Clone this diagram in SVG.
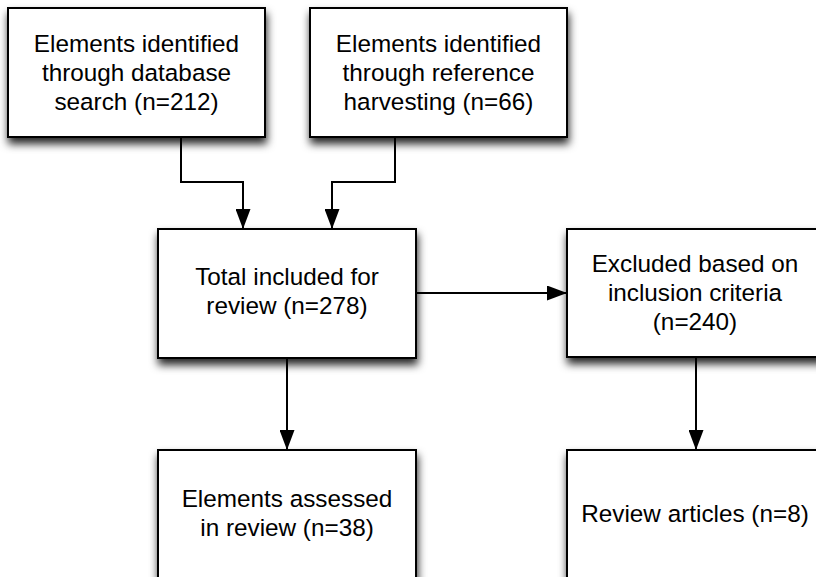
<svg xmlns="http://www.w3.org/2000/svg" width="816" height="577" viewBox="0 0 816 577">
<defs>
<filter id="sh" x="-20%" y="-20%" width="140%" height="150%">
<feDropShadow dx="1" dy="6" stdDeviation="4" flood-color="#000" flood-opacity="0.85"/>
</filter>
<marker id="ah" markerUnits="userSpaceOnUse" markerWidth="21" markerHeight="15" refX="20" refY="7.5" orient="auto">
<path d="M0,0 L20,7.5 L0,15 Z" fill="#000"/>
</marker>
<style>
.box{fill:#fff;stroke:#000;stroke-width:2;filter:url(#sh)}
.t{font-family:"Liberation Sans",Arial,Helvetica,sans-serif;font-size:24.3px;fill:#000;text-anchor:middle}
.c{fill:none;stroke:#000;stroke-width:2;marker-end:url(#ah)}
</style>
</defs>
<rect width="816" height="577" fill="#fff"/>
<g id="connectors">
<path class="c" d="M181 137 V182 H243 V229"/>
<path class="c" d="M395 137 V182 H332 V229"/>
<path class="c" d="M416 293 H567"/>
<path class="c" d="M287 358 V450"/>
<path class="c" d="M696 357 V450"/>
</g>
<g id="n1">
<rect class="box" x="8" y="8" width="257" height="129"/>
<text class="t" x="136.5" y="52">Elements identified</text>
<text class="t" x="136.5" y="81">through database</text>
<text class="t" x="136.5" y="110">search (n=212)</text>
</g>
<g id="n2">
<rect class="box" x="310" y="8" width="257" height="129"/>
<text class="t" x="438.5" y="52">Elements identified</text>
<text class="t" x="438.5" y="81">through reference</text>
<text class="t" x="438.5" y="110">harvesting (n=66)</text>
</g>
<g id="n3">
<rect class="box" x="158" y="229" width="258" height="129"/>
<text class="t" x="287" y="285">Total included for</text>
<text class="t" x="287" y="314">review (n=278)</text>
</g>
<g id="n4">
<rect class="box" x="567" y="229" width="257" height="128"/>
<text class="t" x="695" y="272">Excluded based on</text>
<text class="t" x="695" y="301">inclusion criteria</text>
<text class="t" x="695" y="330">(n=240)</text>
</g>
<g id="n5">
<rect class="box" x="158" y="450" width="258" height="129"/>
<text class="t" x="287" y="507">Elements assessed</text>
<text class="t" x="287" y="536">in review (n=38)</text>
</g>
<g id="n6">
<rect class="box" x="567" y="450" width="257" height="129"/>
<text class="t" x="695" y="522">Review articles (n=8)</text>
</g>
</svg>
